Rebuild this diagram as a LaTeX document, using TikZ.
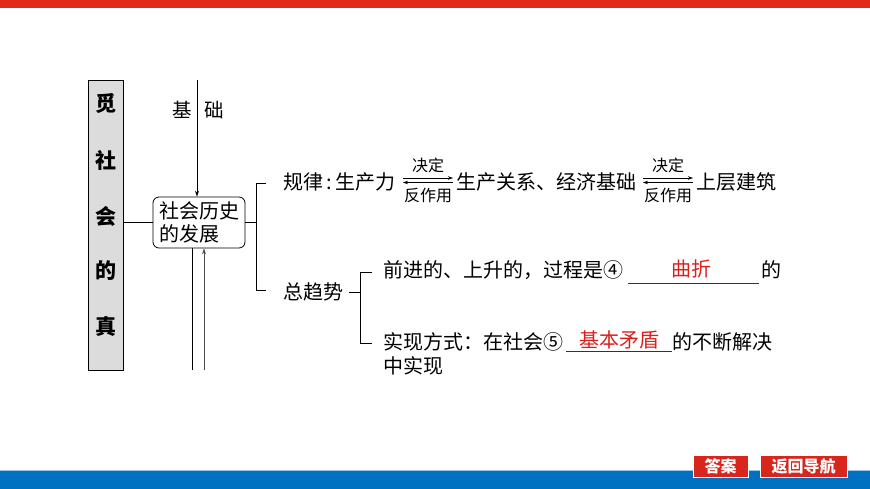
\documentclass[tikz,border=0pt]{standalone}
\usepackage{fontspec}
\setmainfont{Noto Sans CJK SC}
\usetikzlibrary{arrows.meta}
\definecolor{topred}{HTML}{E1281C}
\definecolor{btnred}{HTML}{D8261C}
\definecolor{barblue}{HTML}{0070C0}
\definecolor{fillred}{HTML}{D9201C}
\definecolor{bargray}{HTML}{DCDCDC}
\tikzset{
  txt/.style={inner sep=0pt, anchor=west, font=\fontsize{20}{22}\selectfont},
  small/.style={inner sep=0pt, font=\fontsize{16}{18}\selectfont},
  ans/.style={inner sep=0pt, text=fillred, font=\fontsize{20}{22}\selectfont},
  vch/.style={inner sep=0pt, font=\bfseries\fontsize{21}{22}\selectfont},
  btn/.style={fill=btnred, draw=white, line width=1pt, text=white, inner sep=0pt,
     minimum height=22pt, font=\bfseries\fontsize{16}{17}\selectfont},
  ln/.style={line width=0.8pt, black},
  arr/.style={line width=0.7pt, -{Stealth[length=5pt,width=3.5pt]}},
}
\begin{document}
\begin{tikzpicture}[x=1pt,y=-1pt]
\useasboundingbox (0,0) rectangle (870,489);
% bars
\fill[topred] (0,0) rectangle (870,8);
\fill[barblue] (0,470) rectangle (870,489);
\draw[color=barblue!40, line width=0.8pt] (0,470) -- (870,470);
\node[btn, minimum width=55pt] (ansbtn) at (720.5,466) {答案};
\node[btn, minimum width=87pt] (navbtn) at (803.5,466) {返回导航};
% gray title bar
\node[draw, fill=bargray, line width=0.8pt, minimum width=35pt, minimum height=290pt, inner sep=0pt] (gbar) at (105.5,225) {};
\node[vch] (c1) at (105.5,103) {觅};
\node[vch] (c2) at (105.5,160) {社};
\node[vch] (c3) at (105.5,216) {会};
\node[vch] (c4) at (105.5,271) {的};
\node[vch] (c5) at (105.5,327) {真};
% central box
\node[draw, rounded corners=6pt, line width=0.8pt, minimum width=92pt, minimum height=51pt,
      align=left, inner xsep=5pt, inner ysep=2pt, font=\fontsize{20}{23}\selectfont] (hist) at (199,222.5) {社会历史\\的发展};
\draw[ln] (gbar.east |- hist.west) -- (hist.west);
% top arrow
\coordinate (topa) at (197,80);
\draw[ln, -{Stealth[length=6pt,width=4pt]}] (topa) -- (hist.north -| topa);
\node[inner sep=0pt, font=\fontsize{19.5}{22}\selectfont] (ji) at (182,110) {基};
\node[inner sep=0pt, font=\fontsize{19.5}{22}\selectfont] (chu) at (214,110) {础};
% bottom lines
\coordinate (bl1) at (192,370);
\coordinate (bl2) at (204,370);
\draw[ln] (hist.south -| bl1) -- (bl1);
\draw[line width=0.9pt, black!70, -{Stealth[length=6pt,width=4pt]}] (bl2) -- (hist.south -| bl2);
% bracket 1
\coordinate (j1) at (256,222.5);
\coordinate (k1a) at (266,183);
\coordinate (k1b) at (266,290);
\draw[ln] (hist.east) -- (j1);
\draw[ln] (k1a) -- (k1a -| j1) -- (k1b -| j1) -- (k1b);
% row 1: law
\node[txt] (law) at (283,182) {规律\,:\,生产力};
\coordinate (a1l) at (403,178); \coordinate (a1r) at (453,178);
\coordinate (b1l) at (403,182.5); \coordinate (b1r) at (453,182.5);
\draw[arr] (a1l) -- (a1r);
\draw[arr] (b1r) -- (b1l);
\node[small] (jd1) at (428,165) {决定};
\node[small] (fz1) at (428,195) {反作用};
\node[txt] (rel) at (456,182) {生产关系、经济基础};
\coordinate (a2l) at (643,178); \coordinate (a2r) at (693,178);
\coordinate (b2l) at (643,182.5); \coordinate (b2r) at (693,182.5);
\draw[arr] (a2l) -- (a2r);
\draw[arr] (b2r) -- (b2l);
\node[small] (jd2) at (668,165) {决定};
\node[small] (fz2) at (668,195) {反作用};
\node[txt] (supr) at (696,182) {上层建筑};
% row 2: trend
\node[txt] (trend) at (283,292) {总趋势};
\coordinate (j2) at (360,292);
\coordinate (k2a) at (372,272);
\coordinate (k2b) at (372,343);
\draw[ln] ([xshift=6pt]trend.east) -- (j2);
\draw[ln] (k2a) -- (k2a -| j2) -- (k2b -| j2) -- (k2b);
\node[txt] (p1) at (383,270) {前进的、上升的，过程是④};
\coordinate (u1a) at (628,283); \coordinate (u1b) at (759,283);
\draw[line width=0.8pt, black!80] (u1a) -- (u1b);
\node[ans] (ans1) at (691,269) {曲折};
\node[txt] (p1e) at (761,270) {的};
\node[txt] (p2) at (383,342) {实现方式：在社会⑤};
\coordinate (u2a) at (566,351); \coordinate (u2b) at (672,351);
\draw[line width=0.8pt, black!80] (u2a) -- (u2b);
\node[ans] (ans2) at (619,340) {基本矛盾};
\node[txt] (p2e) at (672,342) {的不断解决};
\node[txt] (p3) at (383,366) {中实现};
\end{tikzpicture}
\end{document}
